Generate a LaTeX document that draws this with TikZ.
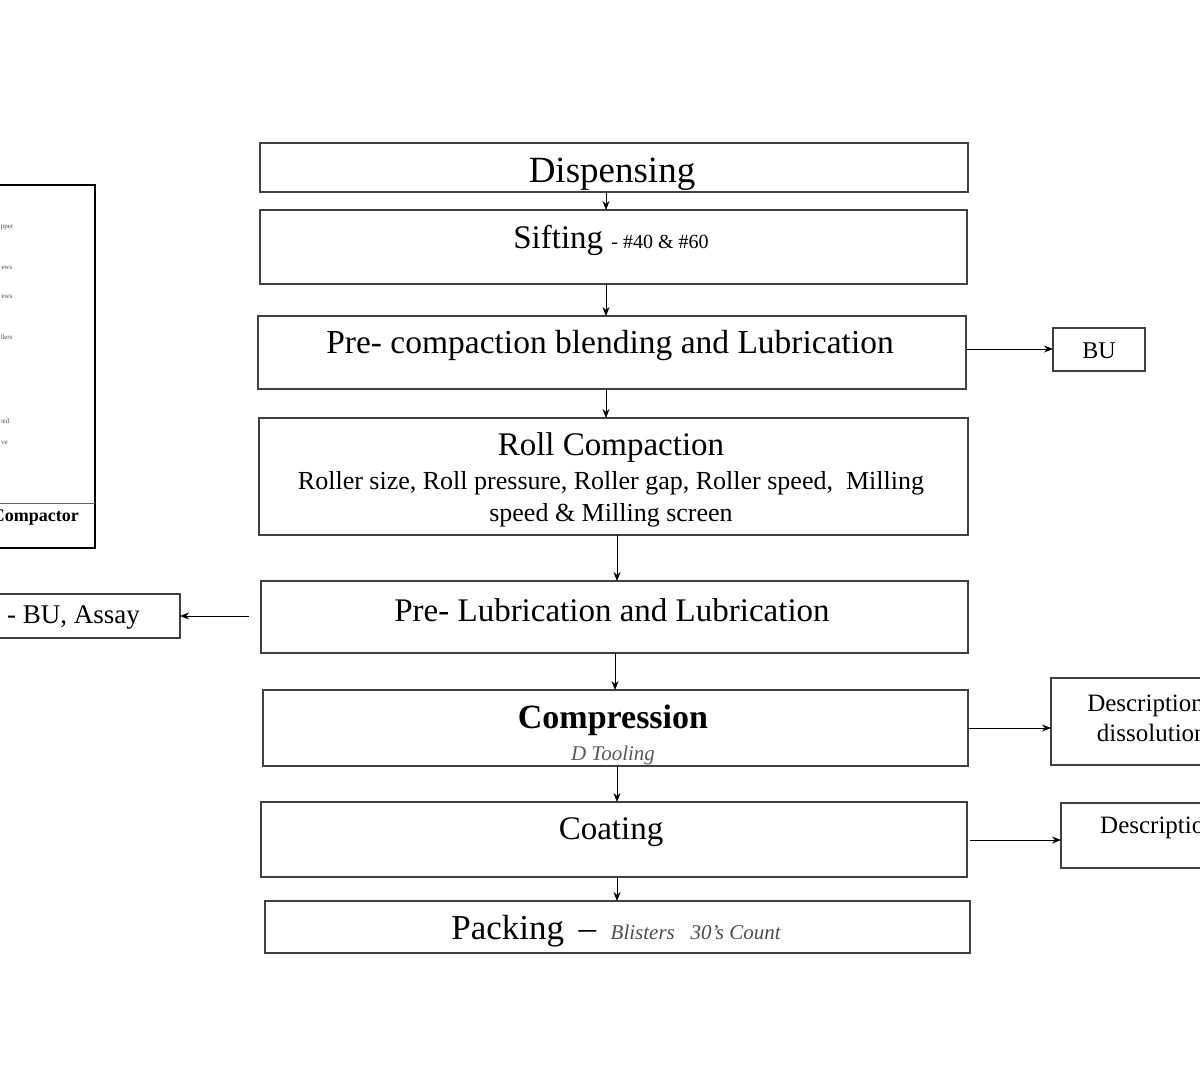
\documentclass[tikz,border=0pt]{standalone}
\usepackage{fontspec}
\setmainfont{Liberation Serif}
\usetikzlibrary{arrows.meta}
\begin{document}
\begin{tikzpicture}[x=1pt,y=-1pt,
  box/.style={draw=black!75,line width=1.3pt,inner sep=0pt},
  arr/.style={-{Stealth[length=9pt,width=7pt]},line width=0.9pt},
  lbl/.style={inner sep=0pt,anchor=center,align=center}]
\clip (0,0) rectangle (1200,1080);
\fill[white] (0,0) rectangle (1200,1080);
% main boxes
\draw[box] (260,143) rectangle (968,192);
\node[lbl,font=\fontsize{37}{39}\selectfont] (dis) at (612,174) {Dispensing};
\coordinate (d1) at (606,192); \coordinate (s0) at (606,210);
\draw[box] (260,210) rectangle (967,284);
\node[lbl] (sif) at (611,240) {\fontsize{33}{35}\selectfont Sifting \fontsize{20}{22}\selectfont - \#40 \& \#60};
\coordinate (s1) at (606,284); \coordinate (p0) at (606,316);
\draw[box] (258,316) rectangle (966,389);
\node[lbl,font=\fontsize{33.5}{35}\selectfont] (pre) at (610,345) {Pre- compaction blending and Lubrication};
\coordinate (p1) at (606,389); \coordinate (r0) at (606,418);
\coordinate (pR) at (966,349);
\draw[box] (259,418) rectangle (968,535);
\node[lbl,font=\fontsize{33}{35}\selectfont] (roll) at (611,448) {Roll Compaction};
\node[lbl,font=\fontsize{26}{32}\selectfont] (rollp) at (611,499) {Roller size, Roll pressure, Roller gap, Roller speed,\ \ Milling\\speed \& Milling screen};
\coordinate (r1) at (617,535); \coordinate (l0) at (617,581);
\draw[box] (261,581) rectangle (968,653);
\node[lbl,font=\fontsize{33}{35}\selectfont] (lub) at (612,610) {Pre- Lubrication and Lubrication};
\coordinate (lL) at (249,616);
\coordinate (l1) at (615,653); \coordinate (c0) at (615,690);
\draw[box] (263,690) rectangle (968,766);
\node[lbl,font=\bfseries\fontsize{34}{36}\selectfont] (comp) at (613,720) {Compression};
\node[lbl,font=\itshape\fontsize{21}{22}\selectfont,text=black!65] (dt) at (613,755) {D Tooling};
\coordinate (c1) at (617,766); \coordinate (o0) at (617,802);
\coordinate (cR) at (968,728);
\draw[box] (261,802) rectangle (967,877);
\node[lbl,font=\fontsize{33}{35}\selectfont] (coat) at (611,832) {Coating};
\coordinate (o1) at (617,877); \coordinate (k0) at (617,901);
\coordinate (oR) at (970,840);
\draw[box] (265,901) rectangle (970,953);
\node[lbl] (pack) at (616,931) {\fontsize{35}{37}\selectfont Packing \,--\, \itshape\fontsize{21}{22}\selectfont\color{black!70}Blisters\ \ \ 30's Count};
% side boxes
\draw[box] (1053,328) rectangle (1145,371);
\node[lbl,font=\fontsize{24}{26}\selectfont] (bu) at (1099,351) {BU};
\coordinate (bu0) at (1053,349);
\draw[box] (-10,594) rectangle (180,638);
\node[lbl,font=\fontsize{27}{29}\selectfont,anchor=east] (as) at (140,617) {- BU, Assay};
\coordinate (as0) at (180,616);
\draw[box] (1051,678) rectangle (1215,765);
\node[lbl,font=\fontsize{25}{30}\selectfont,anchor=west] (de1) at (1078,718) {\ Description\\\ \ \ dissolution};
\coordinate (de0) at (1051,728);
\draw[box] (1061,803) rectangle (1215,868);
\node[lbl,font=\fontsize{25}{27}\selectfont,anchor=west] (de2) at (1100,828) {Description};
\coordinate (dd0) at (1061,840);
% compactor box
\draw[line width=2.6pt] (-10,185) rectangle (95,548);
\draw[line width=1pt,black!60] (-10,503) -- (95,503);
\node[lbl,font=\bfseries\fontsize{18}{19}\selectfont,anchor=east] (rc) at (79,517) {Roll Compactor};
\begin{scope}[every node/.style={lbl,anchor=west,font=\fontsize{7}{8}\selectfont,text=black!70}]
\node (t1) at (-8,227) {Hopper};
\node (t2) at (-8,267) {Screws};
\node (t3) at (-8,296) {Screws};
\node (t4) at (-8,337) {Rollers};
\node (t5) at (-8,422) {Speed};
\node (t6) at (-8,442) {Sieve};
\end{scope}
\fill[white] (-12,215) rectangle (1,450);
% arrows
\draw[arr] (d1) -- (s0);
\draw[arr] (s1) -- (p0);
\draw[arr] (p1) -- (r0);
\draw[arr] (r1) -- (l0);
\draw[arr] (l1) -- (c0);
\draw[arr] (c1) -- (o0);
\draw[arr] (o1) -- (k0);
\draw[arr] (pR) -- (bu0);
\draw[arr] (lL) -- (as0);
\draw[arr] (cR) -- (de0);
\draw[arr] (oR) -- (dd0);
\end{tikzpicture}
\end{document}
